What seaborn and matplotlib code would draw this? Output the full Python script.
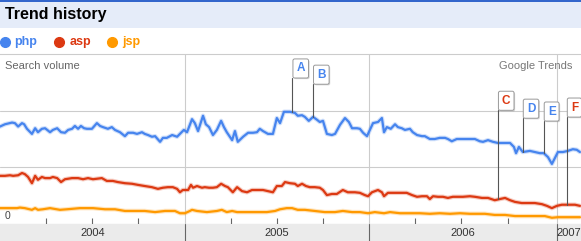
import numpy as np
import pandas as pd
import matplotlib
matplotlib.use("Agg")
import matplotlib.pyplot as plt
import matplotlib.patheffects as pe
from matplotlib.patches import Rectangle
from matplotlib.lines import Line2D
import seaborn as sns

# ---------------- data (weeks since start of 2004, relative search volume) ----------------
terms = ["php", "asp", "jsp"]
term_colors = ["#4684EE", "#DC3912", "#FF9900"]

php_week = [0.0, 1.4, 3.4, 4.2, 5.1, 6.2, 6.8, 7.6, 9.0, 9.9,
            10.7, 11.8, 12.7, 14.1, 14.9, 16.1, 17.2, 18.3, 19.2, 20.3,
            21.1, 22.0, 22.8, 23.7, 24.5, 25.9, 27.3, 28.2, 29.0, 30.4,
            31.5, 32.4, 33.8, 35.2, 36.1, 37.5, 38.6, 40.0, 40.8, 41.7,
            42.8, 43.7, 45.1, 45.9, 47.0, 48.5, 49.9, 50.7, 51.8, 52.7,
            54.1, 54.9, 55.8, 57.2, 58.0, 58.9, 60.0, 61.1, 62.3, 63.1,
            63.9, 65.4, 66.2, 67.0, 68.5, 69.9, 71.3, 72.4, 73.2, 74.1,
            75.5, 76.9, 78.0, 78.9, 80.0, 81.1, 81.7, 83.1, 83.9, 85.1,
            85.9, 87.0, 88.2, 89.3, 90.1, 91.0, 92.1, 93.5, 94.4, 95.8,
            97.2, 98.3, 99.2, 100.6, 101.4, 102.3, 103.4, 104.2, 105.1, 106.5,
            107.6, 108.2, 109.0, 110.1, 111.3, 112.1, 113.2, 114.1, 115.5, 116.3,
            117.5, 118.9, 119.7, 121.1, 122.5, 123.9, 125.4, 126.2, 127.3, 128.7,
            130.4, 132.4, 133.8, 135.2, 136.1, 137.5, 138.9, 140.3, 142.3, 143.7,
            144.8, 145.4, 146.2, 147.3, 149.3, 150.7, 152.1, 153.2, 154.4, 155.5,
            156.3, 157.2, 158.6, 160.0, 161.4, 162.5, 163.4]
php_vol = [1.72, 1.76, 1.79, 1.78, 1.72, 1.78, 1.76, 1.68, 1.59, 1.69,
           1.62, 1.68, 1.69, 1.62, 1.66, 1.69, 1.62, 1.61, 1.66, 1.68,
           1.73, 1.68, 1.73, 1.69, 1.68, 1.68, 1.78, 1.73, 1.71, 1.68,
           1.71, 1.66, 1.62, 1.55, 1.61, 1.61, 1.59, 1.62, 1.59, 1.57,
           1.54, 1.55, 1.45, 1.52, 1.52, 1.57, 1.54, 1.59, 1.66, 1.62,
           1.85, 1.78, 1.64, 1.91, 1.76, 1.71, 1.57, 1.66, 1.82, 1.71,
           1.62, 1.48, 1.64, 1.45, 1.54, 1.61, 1.61, 1.62, 1.68, 1.64,
           1.59, 1.59, 1.87, 1.78, 1.98, 1.98, 1.98, 1.96, 1.91, 1.92,
           1.89, 1.82, 1.89, 1.84, 1.80, 1.82, 1.59, 1.57, 1.59, 1.75,
           1.87, 1.80, 1.69, 1.69, 1.68, 1.61, 1.55, 1.66, 1.78, 1.80,
           1.87, 1.62, 1.71, 1.68, 1.76, 1.71, 1.69, 1.66, 1.68, 1.62,
           1.57, 1.55, 1.55, 1.50, 1.50, 1.52, 1.52, 1.50, 1.46, 1.50,
           1.50, 1.50, 1.50, 1.46, 1.45, 1.48, 1.45, 1.43, 1.43, 1.43,
           1.36, 1.25, 1.36, 1.27, 1.29, 1.27, 1.25, 1.25, 1.18, 1.06,
           1.16, 1.27, 1.27, 1.29, 1.32, 1.31, 1.27]

asp_week = [0.0, 1.4, 2.8, 3.7, 5.1, 6.2, 7.0, 7.9, 9.0, 9.9,
            10.7, 11.8, 12.7, 14.1, 14.9, 16.1, 17.2, 18.3, 20.3, 22.0,
            23.4, 24.8, 26.2, 28.7, 30.1, 31.8, 33.2, 35.2, 37.2, 38.9,
            40.8, 42.8, 44.5, 45.9, 47.3, 48.7, 49.9, 50.7, 51.5, 53.0,
            53.8, 54.4, 55.5, 56.9, 57.7, 58.9, 60.0, 61.1, 62.3, 63.4,
            64.2, 65.6, 66.8, 68.2, 69.6, 71.0, 72.4, 74.1, 75.5, 76.9,
            78.0, 79.4, 80.3, 81.7, 83.1, 83.9, 85.1, 86.2, 87.3, 88.7,
            90.1, 91.0, 92.1, 93.5, 94.9, 96.6, 98.0, 100.0, 101.4, 102.8,
            103.7, 104.8, 106.5, 107.6, 108.2, 109.3, 111.3, 113.2, 114.6, 116.1,
            117.5, 118.9, 120.3, 121.1, 122.0, 123.4, 124.8, 126.2, 127.6, 129.0,
            130.4, 132.4, 133.8, 135.8, 137.5, 139.4, 140.8, 142.3, 143.7, 145.1,
            147.0, 148.7, 150.7, 152.7, 154.1, 155.5, 156.9, 158.3, 160.0, 162.0,
            163.4]
asp_vol = [0.85, 0.85, 0.86, 0.85, 0.86, 0.90, 0.88, 0.83, 0.72, 0.85,
           0.78, 0.83, 0.81, 0.81, 0.83, 0.81, 0.74, 0.79, 0.81, 0.81,
           0.79, 0.81, 0.79, 0.81, 0.76, 0.76, 0.74, 0.72, 0.71, 0.69,
           0.67, 0.65, 0.62, 0.64, 0.65, 0.65, 0.62, 0.56, 0.60, 0.60,
           0.69, 0.64, 0.67, 0.64, 0.65, 0.64, 0.64, 0.65, 0.71, 0.67,
           0.65, 0.56, 0.65, 0.58, 0.56, 0.60, 0.60, 0.60, 0.58, 0.56,
           0.67, 0.67, 0.74, 0.72, 0.71, 0.67, 0.71, 0.67, 0.65, 0.65,
           0.64, 0.60, 0.51, 0.53, 0.53, 0.60, 0.56, 0.56, 0.55, 0.51,
           0.49, 0.56, 0.60, 0.56, 0.49, 0.55, 0.55, 0.55, 0.55, 0.51,
           0.48, 0.49, 0.49, 0.44, 0.49, 0.48, 0.48, 0.46, 0.48, 0.48,
           0.48, 0.49, 0.48, 0.46, 0.46, 0.42, 0.44, 0.46, 0.42, 0.39,
           0.37, 0.37, 0.37, 0.35, 0.32, 0.28, 0.32, 0.34, 0.34, 0.34,
           0.32]

jsp_week = [0.0, 2.3, 4.8, 5.6, 7.0, 9.0, 9.9, 10.7, 12.1, 14.1,
            16.9, 18.9, 22.5, 26.2, 29.6, 32.4, 35.2, 38.0, 40.8, 43.7,
            46.5, 49.3, 50.7, 52.1, 53.5, 54.1, 55.5, 58.3, 61.1, 62.5,
            63.9, 65.4, 66.8, 69.6, 72.4, 75.2, 77.5, 78.9, 80.8, 82.3,
            83.9, 85.9, 88.7, 91.5, 94.4, 96.6, 99.2, 101.4, 103.7, 105.6,
            108.2, 109.9, 112.7, 115.5, 118.3, 121.1, 123.9, 126.8, 129.6, 132.4,
            136.6, 139.4, 142.3, 145.1, 147.9, 150.7, 153.5, 155.5, 157.2, 160.0,
            163.4]
jsp_vol = [0.28, 0.28, 0.28, 0.29, 0.28, 0.25, 0.28, 0.25, 0.26, 0.28,
           0.25, 0.26, 0.28, 0.28, 0.26, 0.26, 0.23, 0.23, 0.23, 0.21,
           0.23, 0.23, 0.19, 0.19, 0.23, 0.25, 0.23, 0.21, 0.23, 0.25,
           0.21, 0.23, 0.21, 0.21, 0.21, 0.21, 0.23, 0.26, 0.28, 0.28,
           0.25, 0.25, 0.23, 0.21, 0.21, 0.23, 0.21, 0.21, 0.19, 0.21,
           0.19, 0.21, 0.19, 0.19, 0.19, 0.18, 0.19, 0.18, 0.19, 0.18,
           0.18, 0.16, 0.16, 0.14, 0.14, 0.14, 0.14, 0.11, 0.12, 0.12,
           0.12]

years = ["2004", "2005", "2006", "2007"]
year_start_week = [0, 52, 104, 157]

ann_letters = ["A", "B", "C", "D", "E", "F"]
ann_terms = ["php", "php", "asp", "php", "php", "asp"]
ann_weeks = [82.4, 88.2, 140.3, 147.3, 153.2, 159.7]

# ---------------- figure ----------------
sns.set_theme(style="white")
plt.rcParams["font.family"] = ["Liberation Sans", "DejaVu Sans"]

W, H = 581, 241
fig = plt.figure(figsize=(W / 100, H / 100), dpi=100)
fig.patch.set_facecolor("white")


def fx(px):
    return px / W


def fy(py):
    return 1 - py / H


# title bar
fig.add_artist(Rectangle((0, fy(28)), 1, 28 / H, transform=fig.transFigure,
                         facecolor="#E5ECF9", edgecolor="none", zorder=0))
fig.add_artist(Rectangle((0, fy(1.5)), 1, 1.5 / H, transform=fig.transFigure,
                         facecolor="#3366CC", edgecolor="none", zorder=1))
fig.text(fx(5), fy(14.5), "Trend history", fontsize=11.5, fontweight="bold",
         color="black", ha="left", va="center")

# legend row
leg_circle_x = [4.5, 59, 112]
leg_text_x = [14, 69.5, 122]
for t, c, cx, tx in zip(terms, term_colors, leg_circle_x, leg_text_x):
    fig.add_artist(Line2D([fx(cx)], [fy(41.5)], marker="o", markersize=7,
                          color=c, transform=fig.transFigure))
    fig.text(fx(tx), fy(41.5), t, fontsize=9, fontweight="bold", color=c,
             ha="left", va="center")

# main plot area
ax = fig.add_axes([0, fy(224), 1, 170 / H])
frames = []
for t, w, v in [("php", php_week, php_vol), ("asp", asp_week, asp_vol),
                ("jsp", jsp_week, jsp_vol)]:
    frames.append(pd.DataFrame({"week": w, "volume": v, "term": t}))
df = pd.concat(frames, ignore_index=True)

sns.lineplot(data=df, x="week", y="volume", hue="term", hue_order=terms,
             palette=term_colors, linewidth=1.6, legend=False,
             estimator=None, ax=ax, zorder=3)
for line in ax.lines:
    line.set_path_effects([pe.Stroke(linewidth=3.2, foreground=line.get_color(), alpha=0.25),
                           pe.Normal()])
    line.set_solid_joinstyle("round")

x_end = 163.7
ax.set_xlim(0, x_end)
ax.set_ylim(0, 3)
ax.set_xlabel("")
ax.set_ylabel("")
ax.set_facecolor("white")
ax.set_yticks([1, 2])
ax.grid(False)
for gy in [1, 2]:
    ax.axhline(gy, color="#CCCCCC", lw=0.8, zorder=1)
for ys in year_start_week[1:]:
    ax.axvline(ys, color="#CCCCCC", lw=0.8, zorder=1)

quarter_ticks = [ys + q for ys in year_start_week[:3] for q in (13, 26, 39)]
ax.set_xticks(quarter_ticks)
ax.tick_params(axis="x", direction="in", length=4.3, width=0.8, color="#666666",
               labelbottom=False, bottom=True)
ax.tick_params(axis="y", length=0, labelleft=False)
for s in ["left", "right"]:
    ax.spines[s].set_visible(False)
ax.spines["top"].set_color("#CCCCCC")
ax.spines["top"].set_linewidth(0.8)
ax.spines["bottom"].set_color("#AAAAAA")
ax.spines["bottom"].set_linewidth(0.8)

ax.annotate("0", xy=(0, 0), xytext=(3.6, 2.0), textcoords="offset points",
            ha="left", va="bottom", fontsize=7.5, color="#444444")

# annotation flags
series_lookup = {"php": (php_week, php_vol), "asp": (asp_week, asp_vol),
                 "jsp": (jsp_week, jsp_vol)}
ann_box_bottom = [2.58, 2.47, 2.01, 1.87, 1.82, 1.89]
for letter, term, wk, yb in zip(ann_letters, ann_terms, ann_weeks, ann_box_bottom):
    sw, sv = series_lookup[term]
    val = np.interp(wk, sw, sv)
    color = term_colors[terms.index(term)]
    ax.plot([wk, wk], [val, yb], color="#555555", lw=0.8, zorder=4)
    a = ax.annotate(letter, xy=(wk, yb), xytext=(2.9, 2.4), textcoords="offset points",
                    ha="left", va="bottom", fontsize=8.5, fontweight="bold", color=color,
                    zorder=5,
                    bbox=dict(boxstyle="round,pad=0.3,rounding_size=0.15",
                              fc="white", ec="#999999", lw=0.7))
    a.get_bbox_patch().set_path_effects([pe.withSimplePatchShadow(offset=(0.8, -0.8),
                                                                  shadow_rgbFace="#888888",
                                                                  alpha=0.35)])

# texts inside chart
fig.text(fx(5), fy(66), "Search volume", fontsize=8, color="#666666",
         ha="left", va="center")
fig.text(fx(572), fy(66), "Google Trends", fontsize=8, color="#777777",
         ha="right", va="center")

# bottom year band
axb = fig.add_axes([0, 0, 1, 17 / H])
axb.set_facecolor("#EBEBEB")
axb.set_xlim(0, x_end)
axb.set_ylim(0, 1)
axb.set_xticks([])
axb.set_yticks([])
for s in axb.spines.values():
    s.set_visible(False)
for ys in year_start_week[1:]:
    axb.axvline(ys, color="#666666", lw=0.8)
bounds = year_start_week + [x_end]
for i, yr in enumerate(years):
    lo, hi = bounds[i], min(bounds[i + 1], x_end)
    axb.text((lo + hi) / 2, 0.45, yr, fontsize=8, color="#333333",
             ha="center", va="center")

fig.savefig("out.png", dpi=100)
